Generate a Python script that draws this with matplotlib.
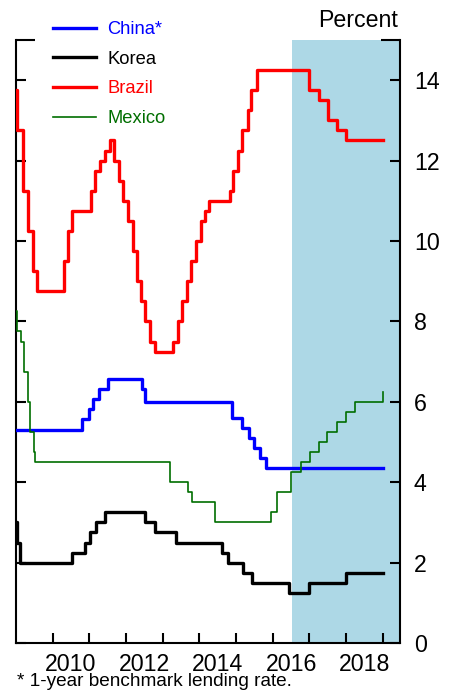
import matplotlib
matplotlib.use("Agg")
import matplotlib.pyplot as plt
from matplotlib.ticker import FixedLocator, NullFormatter, FixedFormatter

plt.rcParams['font.family'] = ['Liberation Sans', 'DejaVu Sans']

# step dates (decimal years) and policy rates (percent)
china_t = [2009.0, 2010.80, 2010.98, 2011.11, 2011.26, 2011.51, 2012.44, 2012.51,
           2014.89, 2015.16, 2015.36, 2015.49, 2015.65, 2015.81, 2019.0]
china_v = [5.31, 5.56, 5.81, 6.06, 6.31, 6.56, 6.31, 6.00,
           5.60, 5.35, 5.10, 4.85, 4.60, 4.35, 4.35]

korea_t = [2009.0, 2009.03, 2009.11, 2010.52, 2010.87, 2011.03, 2011.19, 2011.44,
           2012.53, 2012.78, 2013.35, 2014.62, 2014.79, 2015.19, 2015.44, 2016.44,
           2017.0, 2018.0, 2019.0]
korea_v = [3.0, 2.5, 2.0, 2.25, 2.5, 2.75, 3.0, 3.25,
           3.0, 2.75, 2.5, 2.25, 2.0, 1.75, 1.5, 1.25,
           1.5, 1.75, 1.75]

brazil_t = [2009.0, 2009.02, 2009.18, 2009.34, 2009.45, 2009.56, 2010.32, 2010.43,
            2010.53, 2011.04, 2011.16, 2011.28, 2011.42, 2011.55, 2011.67, 2011.80,
            2011.92, 2012.05, 2012.18, 2012.30, 2012.42, 2012.53, 2012.66, 2012.78,
            2013.29, 2013.41, 2013.52, 2013.66, 2013.77, 2013.91, 2014.04, 2014.16,
            2014.25, 2014.83, 2014.92, 2015.05, 2015.17, 2015.33, 2015.42, 2015.57,
            2017.0, 2017.25, 2017.5, 2017.75, 2018.0, 2019.0]
brazil_v = [13.75, 12.75, 11.25, 10.25, 9.25, 8.75, 9.5, 10.25,
            10.75, 11.25, 11.75, 12.0, 12.25, 12.5, 12.0, 11.5,
            11.0, 10.5, 9.75, 9.0, 8.5, 8.0, 7.5, 7.25,
            7.5, 8.0, 8.5, 9.0, 9.5, 10.0, 10.5, 10.75,
            11.0, 11.25, 11.75, 12.25, 12.75, 13.25, 13.75, 14.25,
            13.75, 13.5, 13.0, 12.75, 12.5, 12.5]

mexico_t = [2009.0, 2009.04, 2009.14, 2009.23, 2009.32, 2009.38, 2009.48, 2009.53,
            2013.19, 2013.68, 2013.81, 2014.42, 2015.94, 2016.12, 2016.49, 2016.76,
            2017.01, 2017.25, 2017.49, 2017.74, 2017.99, 2018.24, 2019.0]
mexico_v = [8.25, 7.75, 7.5, 6.75, 6.0, 5.25, 4.75, 4.5,
            4.0, 3.75, 3.5, 3.0, 3.25, 3.75, 4.25, 4.5,
            4.75, 5.0, 5.25, 5.5, 5.75, 6.0, 6.25]

shade_start = 2016.53
x_lim = (2009.0, 2019.47)
year_ticks = list(range(2010, 2020))
year_labels = ['2010', '2012', '2014', '2016', '2018']
y_ticks = [0, 2, 4, 6, 8, 10, 12, 14]

fig = plt.figure(figsize=(4.56, 6.91), dpi=100)
ax = fig.add_axes([16/456, 48/691, 384/456, 603/691])

ax.axvspan(shade_start, x_lim[1], color='#ADD8E6', lw=0, zorder=0)

ax.step(china_t, china_v, where='post', color='#0000FF', lw=2.4, label='China*', zorder=3)
ax.step(korea_t, korea_v, where='post', color='black', lw=2.4, label='Korea', zorder=3)
ax.step(brazil_t, brazil_v, where='post', color='#FF0000', lw=2.4, label='Brazil', zorder=3)
ax.step(mexico_t, mexico_v, where='post', color='#006E00', lw=1.2, label='Mexico', zorder=3)

ax.set_xlim(*x_lim)
ax.set_ylim(0, 15)

for s in ['left', 'right', 'bottom']:
    ax.spines[s].set_linewidth(1.5)
ax.spines['top'].set_visible(False)

# x axis: ticks at year starts, labels in the middle of the year
ax.xaxis.set_major_locator(FixedLocator(year_ticks))
ax.xaxis.set_major_formatter(NullFormatter())
ax.xaxis.set_minor_locator(FixedLocator([int(l) + 0.5 for l in year_labels]))
ax.xaxis.set_minor_formatter(FixedFormatter(year_labels))
ax.tick_params(axis='x', which='major', direction='in', length=7.2, width=1.5)
ax.tick_params(axis='x', which='minor', length=0, pad=7, labelsize=16.7)

# y axis: ticks both sides, labels right
ax.set_yticks(y_ticks)
ax.yaxis.set_minor_locator(FixedLocator([15]))
ax.tick_params(axis='y', which='major', direction='in', length=7.2, width=1.5,
               left=True, right=True, labelleft=False, labelright=True,
               labelsize=16.7, pad=10)
ax.tick_params(axis='y', which='minor', direction='in', length=13.7, width=1.5,
               left=True, right=True)

fig.text(398/456, 1 - 26.7/691, 'Percent', ha='right', va='baseline', fontsize=16.7)

leg = ax.legend(loc='upper left', bbox_to_anchor=(53/456, 1 - 21/691),
                bbox_transform=fig.transFigure, frameon=False, fontsize=13.2,
                handlelength=2.35, handletextpad=0.62, labelspacing=0.69,
                borderpad=0, borderaxespad=0, labelcolor='linecolor')

fig.text(17/456, 1 - 686.5/691, '* 1-year benchmark lending rate.',
         ha='left', va='baseline', fontsize=13.7)

fig.savefig('out.png', dpi=100)
